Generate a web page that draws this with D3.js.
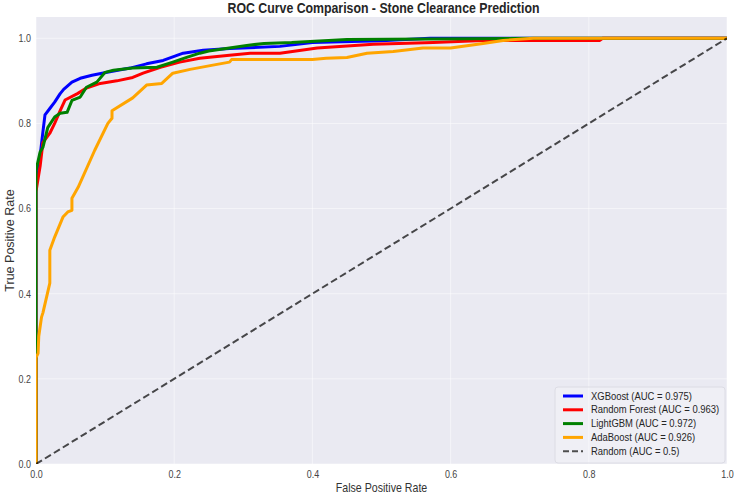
<!DOCTYPE html>
<html>
<head>
<meta charset="utf-8">
<script src="https://cdn.jsdelivr.net/npm/d3@7"></script>
<style>
    body { margin: 0; background: #fff; }
    text { font-family: "Liberation Sans", Arial, sans-serif; }
</style>
</head>
<body>
<script>
// ROC curve data
var xgbFpr = [0, 0, 0.003, 0.006, 0.01, 0.013, 0.02, 0.027, 0.035, 0.04, 0.052,
    0.064, 0.081, 0.103, 0.136, 0.16, 0.184, 0.213, 0.242, 0.28, 0.353, 0.40,
    0.50, 0.57, 1.0];
var xgbTpr = [0, 0.66, 0.69, 0.725, 0.78, 0.82, 0.835, 0.85, 0.87, 0.88, 0.897,
    0.906, 0.913, 0.92, 0.93, 0.94, 0.948, 0.965, 0.972, 0.976, 0.981, 0.99,
    0.994, 1.0, 1.0];

var rfFpr = [0, 0, 0.006, 0.01, 0.02, 0.027, 0.035, 0.042, 0.06, 0.073, 0.093,
    0.117, 0.14, 0.155, 0.18, 0.208, 0.237, 0.28, 0.31, 0.353, 0.407, 0.488,
    0.575, 0.647, 0.816, 0.82, 1.0];
var rfTpr = [0, 0.64, 0.70, 0.755, 0.777, 0.80, 0.83, 0.855, 0.87, 0.883, 0.894,
    0.90, 0.908, 0.918, 0.932, 0.944, 0.953, 0.96, 0.965, 0.965, 0.977, 0.986,
    0.99, 0.995, 0.995, 1.0, 1.0];

var lgbFpr = [0, 0, 0.006, 0.01, 0.017, 0.027, 0.035, 0.045, 0.052, 0.064, 0.073,
    0.088, 0.10, 0.112, 0.14, 0.175, 0.198, 0.218, 0.237, 0.25, 0.305, 0.33,
    0.37, 0.45, 0.72, 1.0];
var lgbTpr = [0, 0.69, 0.733, 0.744, 0.79, 0.815, 0.824, 0.826, 0.854, 0.862,
    0.885, 0.897, 0.92, 0.925, 0.93, 0.932, 0.944, 0.955, 0.965, 0.97, 0.983,
    0.988, 0.99, 0.997, 1.0, 1.0];

var adaFpr = [0, 0, 0.003, 0.004, 0.008, 0.01, 0.02, 0.02, 0.027, 0.039, 0.046,
    0.052, 0.052, 0.061, 0.085, 0.104, 0.11, 0.11, 0.14, 0.16, 0.182, 0.198,
    0.223, 0.256, 0.28, 0.283, 0.40, 0.42, 0.45, 0.479, 0.517, 0.56, 0.6,
    0.647, 0.676, 0.72, 1.0];
var adaTpr = [0, 0.25, 0.26, 0.30, 0.345, 0.355, 0.425, 0.502, 0.533, 0.58,
    0.592, 0.596, 0.624, 0.65, 0.737, 0.80, 0.812, 0.83, 0.86, 0.89, 0.894,
    0.918, 0.927, 0.937, 0.944, 0.95, 0.95, 0.953, 0.955, 0.965, 0.969, 0.977,
    0.977, 0.988, 0.995, 1.0, 1.0];

var modelNames = ["XGBoost", "Random Forest", "LightGBM", "AdaBoost"];
var modelAuc = [0.975, 0.963, 0.972, 0.926];
var modelColors = ["#0000ff", "#ff0000", "#008000", "#ffa500"];
var ticks = [0, 0.2, 0.4, 0.6, 0.8, 1.0];

var W = 737, H = 495;
var margin = {left: 36, right: 10, top: 17, bottom: 31},
    width = W - margin.left - margin.right,
    height = H - margin.top - margin.bottom;

// horizontal text in the reference is a bit narrow
var squeeze = 0.85;

var svg = d3.select("body").append("svg")
    .attr("width", W)
    .attr("height", H);

var x = d3.scaleLinear().domain([0, 1]).range([0, width]);
var y = d3.scaleLinear().domain([0, 1.05]).range([height, 0]);

var g = svg.append("g")
    .attr("transform", "translate(" + margin.left + "," + margin.top + ")");

// Background and grid
g.append("rect")
    .attr("width", width)
    .attr("height", height)
    .attr("fill", "#eaeaf2");

g.append("g").selectAll("line").data(ticks).enter().append("line")
    .attr("x1", function(d) { return x(d); })
    .attr("x2", function(d) { return x(d); })
    .attr("y1", 0).attr("y2", height)
    .attr("stroke", "#fff").attr("stroke-opacity", 0.5);

g.append("g").selectAll("line").data(ticks).enter().append("line")
    .attr("y1", function(d) { return y(d); })
    .attr("y2", function(d) { return y(d); })
    .attr("x1", 0).attr("x2", width)
    .attr("stroke", "#fff").attr("stroke-opacity", 0.5);

// Axes (labels only)
var xAxis = g.append("g")
    .attr("transform", "translate(0," + height + ")")
    .call(d3.axisBottom(x).tickValues(ticks).tickFormat(d3.format(".1f"))
        .tickSize(0).tickPadding(7));
var yAxis = g.append("g")
    .call(d3.axisLeft(y).tickValues(ticks).tickFormat(d3.format(".1f"))
        .tickSize(0).tickPadding(6));
[xAxis, yAxis].forEach(function(a) {
    a.select(".domain").remove();
    a.selectAll("text")
        .style("font-family", "'Liberation Sans', Arial, sans-serif")
        .style("font-size", "10.5px")
        .attr("fill", "#444");
});
// narrow the tick labels around their anchor
xAxis.selectAll(".tick text").attr("transform", "scale(" + squeeze + ",1)");
yAxis.selectAll(".tick text").attr("transform", "scale(" + squeeze + ",1)");

// Curves
var line = d3.line()
    .x(function(d) { return x(d[0]); })
    .y(function(d) { return y(d[1]); });

var curves = [
    d3.zip(xgbFpr, xgbTpr),
    d3.zip(rfFpr, rfTpr),
    d3.zip(lgbFpr, lgbTpr),
    d3.zip(adaFpr, adaTpr)
];

g.append("clipPath").attr("id", "clip")
    .append("rect").attr("width", width).attr("height", height);

var plot = g.append("g").attr("clip-path", "url(#clip)");

curves.forEach(function(c, i) {
    plot.append("path")
        .datum(c)
        .attr("d", line)
        .attr("fill", "none")
        .attr("stroke", modelColors[i])
        .attr("stroke-width", 3)
        .attr("stroke-linejoin", "round");
});

// Random baseline
plot.append("path")
    .datum([[0, 0], [1, 1]])
    .attr("d", line)
    .attr("fill", "none")
    .attr("stroke", "#000")
    .attr("stroke-opacity", 0.7)
    .attr("stroke-width", 2)
    .attr("stroke-dasharray", "7,3.5");

// Title and axis labels
function flatText(px, py, size, weight, fill, str) {
    var t = svg.append("g")
        .attr("transform", "translate(" + px + "," + py + ")scale(" +
            squeeze + ",1)");
    t.append("text")
        .attr("text-anchor", "middle")
        .style("font-size", size + "px")
        .style("font-weight", weight)
        .attr("fill", fill)
        .text(str);
}

flatText(margin.left + width / 2 + 2, 13, 14.5, "bold", "#262626",
    "ROC Curve Comparison - Stone Clearance Prediction");
flatText(margin.left + width / 2, 492, 12.5, "normal", "#333",
    "False Positive Rate");

svg.append("text")
    .attr("transform", "translate(14," + (margin.top + height / 2) + ")rotate(-90)")
    .attr("text-anchor", "middle")
    .style("font-size", "12.5px")
    .attr("fill", "#333")
    .text("True Positive Rate");

// Legend
var legend = svg.append("g").attr("transform", "translate(555,387)");
legend.append("rect")
    .attr("width", 170)
    .attr("height", 76)
    .attr("rx", 3)
    .attr("fill", "#ffffff")
    .attr("fill-opacity", 0.25)
    .attr("stroke", "#dcdce4");

var legendItems = modelNames.map(function(n, i) {
    return {label: n + " (AUC = " + modelAuc[i] + ")", color: modelColors[i]};
});
legendItems.push({label: "Random (AUC = 0.5)", color: "#4d4d4d", dash: true});

legendItems.forEach(function(d, i) {
    var yy = 9 + i * 13.8;
    legend.append("line")
        .attr("x1", 8).attr("x2", 28)
        .attr("y1", yy).attr("y2", yy)
        .attr("stroke", d.color)
        .attr("stroke-width", d.dash ? 2 : 3)
        .attr("stroke-dasharray", d.dash ? "6,3" : null);
    legend.append("g")
        .attr("transform", "translate(36," + (yy + 3.5) + ")scale(0.9,1)")
        .append("text")
        .style("font-size", "10.5px")
        .attr("fill", "#262626")
        .text(d.label);
});
</script>
</body>
</html>
